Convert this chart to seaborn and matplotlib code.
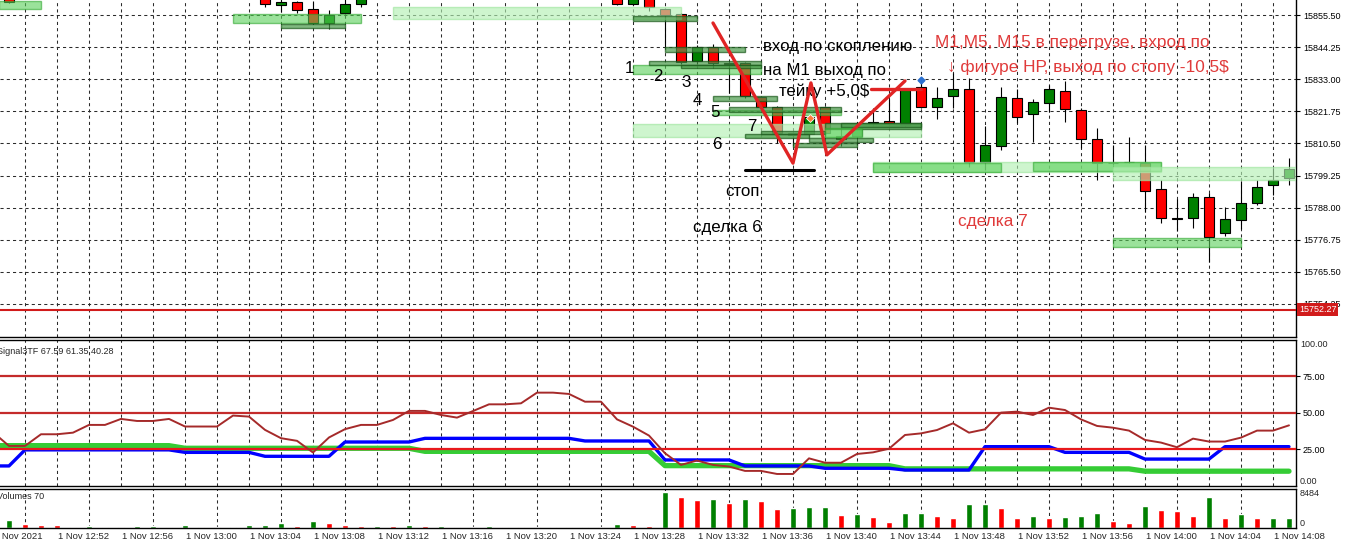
import matplotlib
matplotlib.use("Agg")
import matplotlib.pyplot as plt
from matplotlib.patches import Rectangle
import seaborn as sns

# ---- свечи M1 (бар 0 = 1 Nov 12:49, шаг 1 минута) ----
candle_bar = [0, 16, 17, 18, 19, 20, 21, 22,
              38, 39, 40, 41, 42, 43, 44, 45, 46, 47, 48, 49, 50,
              51, 52, 53, 54, 55, 56, 57, 58, 59, 60, 61, 62, 63, 64, 65,
              66, 67, 68, 69, 70, 71, 72, 73, 74, 75, 76, 77, 78, 79, 80]
candle_open = [15862.0, 15862.0, 15859.0, 15860.0, 15857.6, 15852.7, 15856.2, 15859.3,
               15862.0, 15859.3, 15861.5, 15857.6, 15855.9, 15839.4, 15844.3, 15838.7, 15838.7,
               15826.8, 15823.4, 15814.3, 15813.9,
               15823.4, 15812.0, 15813.0, 15817.5, 15818.2, 15817.1, 15830.3, 15823.4, 15827.2,
               15829.6, 15804.1, 15809.7, 15826.5, 15820.9, 15824.8,
               15828.9, 15822.3, 15812.2, 15803.8, 15804.0, 15803.8, 15794.7, 15784.2, 15784.2,
               15791.9, 15779.0, 15783.5, 15789.5, 15795.8, 15798.5]
candle_high = [15862.5, 15862.5, 15861.5, 15860.5, 15860.5, 15857.2, 15861.0, 15862.5,
               15862.5, 15862.5, 15862.5, 15858.0, 15856.2, 15845.0, 15845.3, 15839.2, 15839.2,
               15827.2, 15823.7, 15814.6, 15820.5,
               15823.7, 15816.5, 15818.0, 15823.0, 15826.0, 15830.0, 15832.1, 15830.3, 15835.2,
               15833.5, 15816.7, 15830.3, 15829.6, 15826.2, 15831.0,
               15832.4, 15823.0, 15816.0, 15810.1, 15812.9, 15810.1, 15797.8, 15790.9, 15793.0,
               15793.0, 15788.1, 15797.2, 15797.8, 15802.0, 15805.5]
candle_low = [15859.8, 15858.3, 15856.5, 15856.2, 15852.3, 15850.6, 15856.0, 15858.3,
              15859.0, 15859.0, 15857.0, 15844.0, 15838.5, 15838.5, 15837.0, 15828.2, 15826.5,
              15822.7, 15810.8, 15809.5, 15812.5,
              15810.8, 15809.5, 15810.0, 15816.5, 15816.5, 15816.5, 15823.0, 15819.2, 15823.0,
              15802.4, 15801.3, 15808.3, 15817.8, 15811.1, 15821.6,
              15818.1, 15809.0, 15797.8, 15803.0, 15803.5, 15786.3, 15782.5, 15779.7, 15780.7,
              15768.9, 15777.9, 15780.4, 15789.0, 15792.6, 15795.8]
candle_close = [15860.1, 15859.3, 15860.0, 15857.2, 15852.7, 15855.5, 15859.3, 15861.5,
                15859.3, 15861.5, 15858.3, 15855.5, 15839.1, 15844.3, 15838.7, 15838.4, 15827.2,
                15823.4, 15814.3, 15813.6, 15819.9,
                15814.3, 15813.2, 15815.5, 15818.0, 15817.5, 15829.3, 15823.4, 15826.5, 15829.6,
                15804.1, 15810.1, 15826.8, 15819.9, 15825.1, 15829.6,
                15822.7, 15812.2, 15803.8, 15803.5, 15804.1, 15793.7, 15784.2, 15784.0, 15791.9,
                15777.6, 15783.9, 15789.5, 15795.1, 15797.8, 15801.7]

price_ticks = [15855.50, 15844.25, 15833.00, 15821.75, 15810.50,
               15799.25, 15788.00, 15776.75, 15765.50, 15754.25]
bid_price = 15752.27

# зоны скоплений: (бар от, бар до, верх, низ, тип)
zones = [
    (-0.6, 2.0, 15860.4, 15857.6, "mid"),
    (14, 22, 15855.85, 15852.7, "mid"),
    (17, 21, 15852.35, 15850.95, "dark"),
    (24, 42, 15858.3, 15854.1, "light"),
    (39, 43, 15855.15, 15853.4, "dark"),
    (41, 46, 15844.3, 15842.5, "dark"),
    (39, 47, 15838.0, 15834.8, "mid"),
    (40, 47, 15839.4, 15838.0, "dark"),
    (42, 47, 15838.0, 15836.95, "dark"),
    (44, 48, 15827.1, 15825.4, "dark"),
    (44, 52, 15822.2, 15820.5, "mid"),
    (45, 52, 15823.3, 15821.5, "dark"),
    (39, 57, 15817.3, 15812.8, "light"),
    (46, 50, 15813.8, 15812.4, "dark"),
    (47, 51, 15814.9, 15813.8, "dark"),
    (49, 53, 15810.7, 15809.3, "dark"),
    (50, 54, 15812.4, 15811.0, "dark"),
    (51, 57, 15817.7, 15815.6, "dark"),
    (52, 57, 15817.7, 15816.3, "dark"),
    (51, 53.3, 15815.9, 15812.8, "mid"),
    (54, 72, 15804.0, 15800.5, "light"),
    (54, 62, 15803.6, 15800.5, "mid"),
    (64, 72, 15804.0, 15800.8, "mid"),
    (69, 80.5, 15802.2, 15797.7, "light"),
    (69, 77, 15777.4, 15774.2, "mid"),
]

# разметка сделок (бар, цена)
zigzag_bar = [44.0, 49.0, 50.12, 51.12, 56.0]
zigzag_price = [15852.7, 15803.6, 15831.7, 15806.5, 15832.4]
take_bar = [53.9, 57.0]
take_price = [15829.6, 15829.6]
stop_bar = [46.0, 50.3]
stop_price = [15801.2, 15801.2]

# ---- индикатор Signal3TF ----
ind_bar = list(range(-1, 81))
sig_brown = [36.5, 27.1, 27.1, 35.1, 35.1, 36.2, 41.5, 41.5, 45.6, 44.2,
             44.2, 45.6, 40.4, 40.4, 40.4, 47.9, 47.2, 38.1, 32.4, 30.6,
             22.6, 32.9, 38.6, 41.5, 41.5, 44.9, 51.1, 51.1, 48.3, 46.5,
             51.0, 55.6, 55.6, 56.3, 63.6, 63.6, 62.7, 57.4, 57.4, 45.3,
             40.3, 34.2, 22.1, 14.1, 17.1, 14.1, 13.0, 10.0, 10.0, 7.9,
             7.9, 18.6, 15.6, 15.6, 21.6, 22.7, 25.2, 34.6, 35.7, 38.0,
             42.6, 36.2, 38.5, 49.9, 50.6, 48.3, 53.3, 51.7, 45.3, 40.8,
             39.6, 37.6, 31.2, 29.4, 26.2, 32.1, 30.1, 30.1, 32.8, 37.6,
             37.6, 41.2]
sig_blue = [13.4, 13.4] + [24.4] * 10 + [22.7] * 5 + [20.0] * 5 + [29.8] * 5 \
    + [32.3] * 10 + [30.5] * 5 + [17.5] * 5 + [13.4] * 5 + [11.8] * 5 \
    + [10.6] * 5 + [26.6] * 5 + [22.7] * 5 + [18.1] * 5 + [26.6] * 5
sig_green = [27.3] * 12 + [25.5] * 15 + [23.4] * 15 + [13.6] * 15 \
    + [11.4] * 15 + [9.8] * 10
levels = [75, 50, 25]

# ---- объёмы ----
vol_bar = list(range(0, 81))
volumes = [1824, 952, 634, 634, 159, 397, 159, 159, 476, 476,
           159, 714, 159, 159, 159, 714, 714, 1190, 476, 1586,
           1190, 714, 397, 476, 397, 714, 397, 476, 159, 159,
           476, 159, 159, 159, 159, 159, 159, 159, 872, 634,
           476, 8484, 7375, 6582, 6820, 5948, 6820, 6423, 4441, 4758,
           4996, 5030, 3093, 3331, 2617, 1427, 3569, 3569, 2855, 2379,
           5630, 5630, 4679, 2379, 2855, 2379, 2617, 2855, 3569, 1665,
           1190, 5234, 4282, 4044, 2855, 7375, 2379, 3331, 2379, 2379,
           2379]
# g = зелёный столбик, r = красный (по 10 баров в группе)
vol_dir = ("grrrrgrrgg" "rgrrggggrg" "rrrgrgrgrg" "grrrgrgrgr"
           "rgrrgrgrrg" "ggrgrrggrr" "ggrrgrgggr" "rgrrrgrgrgg")

x_labels = ["1 Nov 2021", "1 Nov 12:52", "1 Nov 12:56", "1 Nov 13:00", "1 Nov 13:04",
            "1 Nov 13:08", "1 Nov 13:12", "1 Nov 13:16", "1 Nov 13:20", "1 Nov 13:24",
            "1 Nov 13:28", "1 Nov 13:32", "1 Nov 13:36", "1 Nov 13:40", "1 Nov 13:44",
            "1 Nov 13:48", "1 Nov 13:52", "1 Nov 13:56", "1 Nov 14:00", "1 Nov 14:04",
            "1 Nov 14:08"]
x_label_bar = list(range(-1, 80, 4))
grid_bar = list(range(1, 80, 2))

# ---- оформление ----
sns.set_theme(style="white")
plt.rcParams['font.family'] = ['Liberation Sans', 'DejaVu Sans']

W, H = 1347, 546
fig = plt.figure(figsize=(W / 100, H / 100), dpi=100, facecolor="white")


def rect(x0, y0, x1, y1):
    return [x0 / W, 1 - y1 / H, (x1 - x0) / W, (y1 - y0) / H]


ax_main = fig.add_axes(rect(0, 0, 1296, 337))
ax_ind = fig.add_axes(rect(0, 340, 1296, 486))
ax_vol = fig.add_axes(rect(0, 488.5, 1296, 528))

grid_kw = dict(color="#2b2b2b", lw=0.75, linestyle=(0, (3, 3)))
for ax in (ax_main, ax_ind, ax_vol):
    ax.set_facecolor("white")
    ax.set_xlim(-0.5625, 80.4375)
    ax.set_axisbelow(True)
    ax.spines["left"].set_visible(False)
    for s in ("top", "right", "bottom"):
        ax.spines[s].set_color("black")
        ax.spines[s].set_linewidth(1.0)
    ax.set_xticks(grid_bar, minor=True)
    ax.grid(which="minor", axis="x", **grid_kw)
    ax.tick_params(axis="x", which="minor", length=0)
    ax.yaxis.tick_right()
    ax.tick_params(axis="y", direction="out", length=3, width=0.8, pad=2,
                   labelsize=6.5, colors="black")
ax_main.spines["top"].set_visible(False)
ax_main.set_xticks([])
ax_ind.set_xticks([])

# --- цена ---
ax_main.set_ylim(15742.67, 15860.76)
ax_main.set_yticks(price_ticks)
ax_main.set_yticklabels([f"{p:.2f}" for p in price_ticks])
ax_main.grid(which="major", axis="y", **grid_kw)

bull = [c >= o for o, c in zip(candle_open, candle_close)]
body_col = ["#008000" if b else "#ff0000" for b in bull]
ax_main.vlines(candle_bar, candle_low, candle_high, color="black", lw=0.8, zorder=2)
ax_main.bar(candle_bar, [max(abs(c - o), 0.15) for o, c in zip(candle_open, candle_close)],
            bottom=[min(o, c) for o, c in zip(candle_open, candle_close)],
            width=0.66, color=body_col, edgecolor="black", linewidth=0.8, zorder=2)

zone_style = {
    "light": dict(facecolor="#b4f0b4", edgecolor="#9fe59f", alpha=0.65),
    "mid": dict(facecolor="#58cf58", edgecolor="#2fa82f", alpha=0.6),
    "dark": dict(facecolor="#4a9a4a", edgecolor="#1b5a1b", alpha=0.7),
}
for b0, b1, top, bot, kind in zones:
    ax_main.add_patch(Rectangle((b0, bot), b1 - b0, top - bot, lw=1.0,
                                zorder=3, **zone_style[kind]))

ax_main.axhline(bid_price, color="#d11b1b", lw=1.5, zorder=4)
ax_main.text(1.0 + 3 / 1296, bid_price, f"{bid_price:.2f}",
             transform=ax_main.get_yaxis_transform(), color="white", fontsize=6.5,
             ha="left", va="center", clip_on=False, zorder=10,
             bbox=dict(facecolor="#d11b1b", edgecolor="none", pad=1.4))

# разметка сделок
sns.lineplot(x=zigzag_bar, y=zigzag_price, ax=ax_main, color="#e02424", lw=2.4,
             sort=False, estimator=None, zorder=6)
sns.lineplot(x=take_bar, y=take_price, ax=ax_main, color="#e02424", lw=2.4,
             sort=False, estimator=None, zorder=6)
sns.lineplot(x=stop_bar, y=stop_price, ax=ax_main, color="black", lw=2.2,
             sort=False, estimator=None, zorder=6)
ax_main.plot([57.0], [15832.6], marker="D", ms=3.5, color="#2a6fd0", zorder=7)
ax_main.plot([50.06], [15819.4], marker="D", ms=4, color="#ff7a3a",
             markeredgecolor="white", markeredgewidth=0.6, zorder=7)
ax_main.set_xlabel("")
ax_main.set_ylabel("")

txt_black = dict(color="black", fontsize=12.2, ha="left", va="center", zorder=5)
ax_main.text(47.125, 15844.3, "вход по скоплению", **txt_black)
ax_main.text(47.125, 15836.2, "на М1 выход по", **txt_black)
ax_main.text(48.125, 15828.9, "тейку +5,0$", **txt_black)
ax_main.text(44.75, 15793.8, "стоп", **txt_black)
ax_main.text(42.75, 15780.9, "сделка 6", **txt_black)
for lab, b, p in [("1", 38.75, 15836.9), ("2", 40.56, 15834.1), ("3", 42.31, 15831.7),
                  ("4", 43.0, 15825.7), ("5", 44.125, 15821.2), ("7", 46.44, 15816.3),
                  ("6", 44.25, 15810.3)]:
    ax_main.text(b, p, lab, color="black", fontsize=12.2, ha="center", va="center", zorder=5)

txt_red = dict(color="#e03a3a", fontsize=12.4, ha="left", va="center", zorder=5)
ax_main.text(57.875, 15845.7, "M1,M5, M15 в перегрузе, вхрод по", **txt_red)
ax_main.text(58.6, 15837.3, "↓ фигуре НР, выход по стопу -10,5$", **txt_red)
ax_main.text(59.31, 15783.3, "сделка 7", **txt_red)

# --- индикатор ---
ax_ind.set_ylim(-0.34, 99.66)
ax_ind.set_yticks(levels)
ax_ind.set_yticklabels([f"{v:.2f}" for v in levels])
sns.lineplot(x=ind_bar, y=sig_green, ax=ax_ind, color="#35cc35", lw=3.8,
             estimator=None, zorder=2)
sns.lineplot(x=ind_bar, y=sig_blue, ax=ax_ind, color="#0000ff", lw=2.4,
             estimator=None, zorder=3)
for lv in levels:
    ax_ind.axhline(lv, color="#e8191c" if lv == 25 else "#c42b2b", lw=1.6, zorder=4)
sns.lineplot(x=ind_bar, y=sig_brown, ax=ax_ind, color="#a52a2a", lw=1.4,
             estimator=None, zorder=5)
ax_ind.set_xlabel("")
ax_ind.set_ylabel("")
ax_ind.text(1.0 + 4 / 1296, 1.0, "100.00", transform=ax_ind.transAxes, fontsize=6.5,
            ha="left", va="top", clip_on=False)
ax_ind.text(1.0 + 4 / 1296, 0.0, "0.00", transform=ax_ind.transAxes, fontsize=6.5,
            ha="left", va="bottom", clip_on=False)
ax_ind.text(-3 / 1296, 0.955, "Signal3TF 67.59 61.35 40.28", transform=ax_ind.transAxes,
            fontsize=6.5, ha="left", va="top")

# --- объёмы ---
ax_vol.set_ylim(0, 9309)
ax_vol.set_yticks([])
ax_vol.bar(vol_bar, volumes, width=0.35,
           color=["#008000" if d == "g" else "#ff0000" for d in vol_dir], zorder=2)
ax_vol.text(1.0 + 4 / 1296, 1.0, "8484", transform=ax_vol.transAxes, fontsize=6.5,
            ha="left", va="top", clip_on=False)
ax_vol.text(1.0 + 4 / 1296, 0.0, "0", transform=ax_vol.transAxes, fontsize=6.5,
            ha="left", va="bottom", clip_on=False)
ax_vol.text(-3 / 1296, 0.92, "Volumes 70", transform=ax_vol.transAxes,
            fontsize=6.5, ha="left", va="top")

ax_vol.set_xticks([b for b in x_label_bar if b >= 0])
ax_vol.set_xticklabels([])
ax_vol.tick_params(axis="x", which="major", direction="out", length=3, width=0.8,
                   colors="black")
for b, lab in zip(x_label_bar, x_labels):
    ax_vol.annotate(lab, xy=(b, 0), xycoords=("data", "axes fraction"),
                    xytext=(0.5, -3.2), textcoords="offset points",
                    fontsize=6.8, ha="left", va="top", annotation_clip=False)

fig.savefig("out.png", dpi=100, facecolor="white")
